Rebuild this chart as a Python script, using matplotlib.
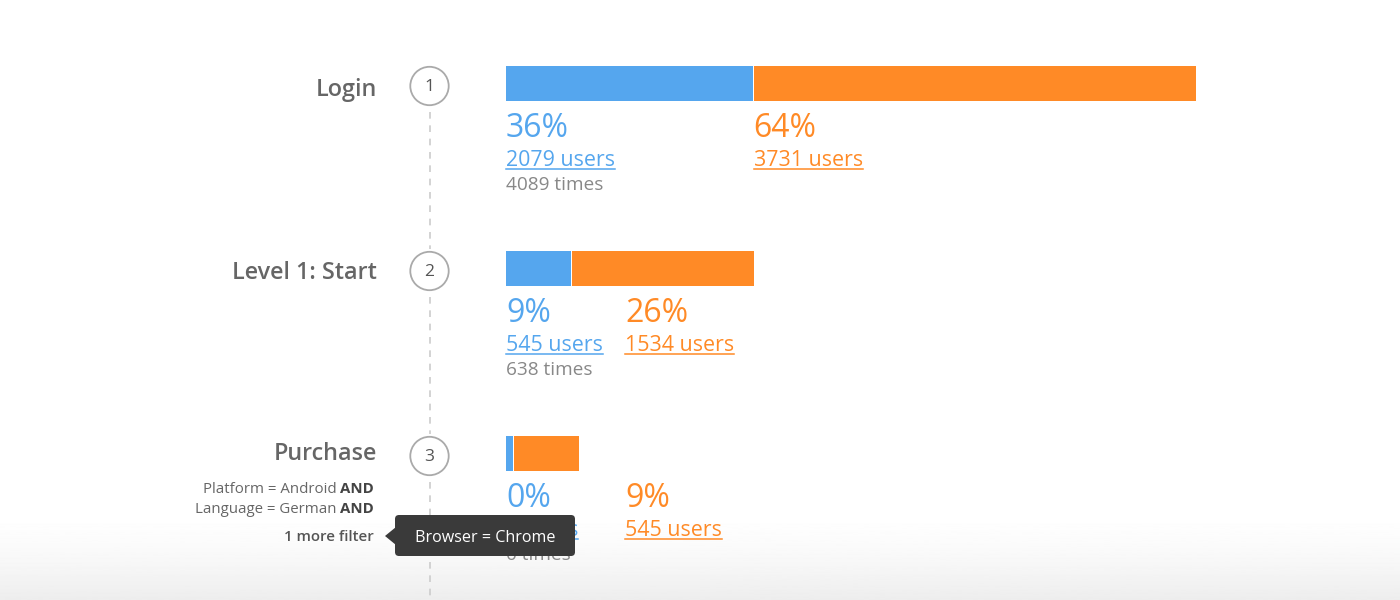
import numpy as np
import matplotlib
matplotlib.use("Agg")
import matplotlib.pyplot as plt
from matplotlib.patches import Circle, FancyBboxPatch, Polygon

plt.rcParams['font.family'] = ['Open Sans', 'DejaVu Sans']

# funnel data
steps = ["Login", "Level 1: Start", "Purchase"]
blue_users = [2079, 545, 0]
orange_users = [3731, 1534, 545]
blue_times = [4089, 638, 0]
filters = ["Platform = Android", "Language = German"]
more_filter = "1 more filter"
tooltip = "Browser = Chrome"

BLUE = "#55a6ee"
ORANGE = "#ff8a26"
total = blue_users[0] + orange_users[0]

fig = plt.figure(figsize=(14, 6), dpi=100)
ax = fig.add_axes([0, 0, 1, 1])
ax.set_xlim(0, 1400)
ax.set_ylim(600, 0)
ax.axis("off")

# soft grey fade at the bottom
grad = np.linspace(0, 1, 100).reshape(-1, 1)
ax.imshow(1 - 0.07 * grad ** 1.5, cmap="gray", vmin=0, vmax=1, aspect="auto",
          extent=(0, 1400, 600, 510), zorder=0)

bar_x0 = 506
bar_w = 689   # pixels for 100%
step_gap = 185
label_base = [96, 279, 460]

# dashed timeline
for i in range(len(steps)):
    cy = 86 + i * step_gap
    y_end = 86 + (i + 1) * step_gap - 22 if i < len(steps) - 1 else 600
    ax.plot([429.5, 429.5], [cy + 26, y_end], color="#cccccc", lw=1.2,
            ls=(0, (4, 4)), zorder=1)
    ax.add_patch(Circle((429.5, cy), 19.2, fc="white", ec="#aaaaaa", lw=1.3, zorder=2))
    ax.text(429.5, cy + 1, str(i + 1), ha="center", va="center", fontsize=12.5,
            color="#555555", zorder=3)
    ax.text(377, label_base[i], steps[i], ha="right", va="baseline", fontsize=16.8,
            color="#666666", fontweight="semibold")

texts_to_underline = []
for i in range(len(steps)):
    by = 83.5 + i * step_gap
    bw = max(blue_users[i] / total, 0.01) * bar_w
    ow = orange_users[i] / total * bar_w
    ax.barh(by, bw, left=bar_x0, height=35, color=BLUE, zorder=2)
    ax.barh(by, ow, left=bar_x0 + bw + 1, height=35, color=ORANGE, zorder=2)

    base = 137 + i * step_gap
    bp = round(blue_users[i] / total * 100)
    op = round(orange_users[i] / total * 100)
    ox = max(bar_x0 + bw + 1, 625)
    ax.text(bar_x0, base, f"{bp}%", color=BLUE, fontsize=23, va="baseline")
    t1 = ax.text(bar_x0, base + 29, f"{blue_users[i]} users", color=BLUE,
                 fontsize=15.4, va="baseline")
    ax.text(bar_x0, base + 53, f"{blue_times[i]} times", color="#888888",
            fontsize=13.7, va="baseline")
    ax.text(ox, base, f"{op}%", color=ORANGE, fontsize=23, va="baseline")
    t2 = ax.text(ox, base + 29, f"{orange_users[i]} users", color=ORANGE,
                 fontsize=15.4, va="baseline")
    texts_to_underline += [(t1, BLUE), (t2, ORANGE)]

fig.canvas.draw()
r = fig.canvas.get_renderer()
inv = ax.transData.inverted()

for t, c in texts_to_underline:
    bb = t.get_window_extent(r)
    (x0, _), (x1, _) = inv.transform([[bb.x0, 0], [bb.x1, 0]])
    ty = t.get_position()[1]
    ax.plot([x0, x1], [ty + 3, ty + 3], color=c, lw=1.1, zorder=3)

# filter lines for purchase step
for j, f in enumerate(filters):
    yy = 493 + j * 20
    ta = ax.text(374, yy, "AND", ha="right", va="baseline", fontsize=10.8,
                 color="#444444", fontweight="bold")
    bb = ta.get_window_extent(r)
    xa = inv.transform([[bb.x0, 0]])[0][0]
    ax.text(xa - 4, yy, f, ha="right", va="baseline", fontsize=10.8, color="#666666")
ax.text(374, 541, more_filter, ha="right", va="baseline", fontsize=10.8,
        color="#555555", fontweight="semibold")

# tooltip
ax.add_patch(FancyBboxPatch((395, 515), 180, 41, boxstyle="round,pad=0,rounding_size=4",
                            fc="#3a3a3a", ec="none", zorder=5))
ax.add_patch(Polygon([[396, 527], [385, 536], [396, 545]], closed=True,
                     fc="#3a3a3a", ec="none", zorder=5))
ax.text(485, 542, tooltip, ha="center", va="baseline", fontsize=11.6,
        color="white", zorder=6)

fig.savefig("out.png", dpi=100)
